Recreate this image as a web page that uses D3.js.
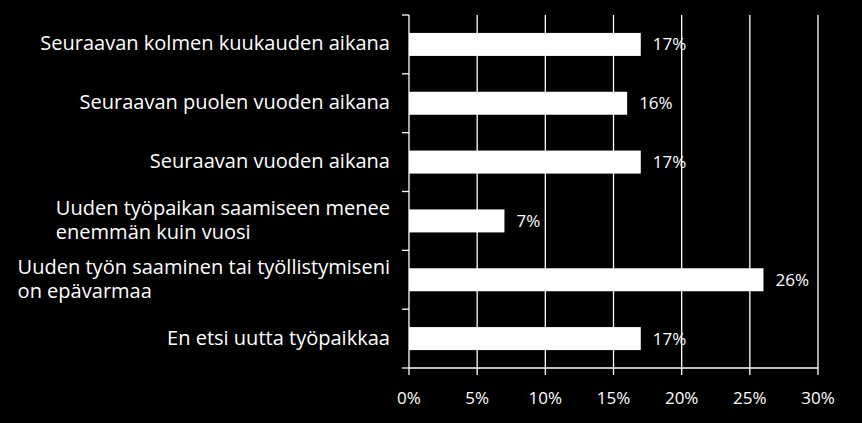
<!DOCTYPE html>
<html><head><meta charset="utf-8">
<script src="https://cdn.jsdelivr.net/npm/d3@7"></script>
<style>body{margin:0;background:#000}text{font-family:"Open Sans",sans-serif;fill:#fff}</style>
</head><body><svg id="c" width="862" height="423"></svg>
<script>
const categories=[["Seuraavan kolmen kuukauden aikana"],["Seuraavan puolen vuoden aikana"],["Seuraavan vuoden aikana"],["Uuden työpaikan saamiseen menee","enemmän kuin vuosi"],["Uuden työn saaminen tai työllistymiseni","on epävarmaa"],["En etsi uutta työpaikkaa"]];
const values=[17,16,17,7,26,17];
const tickValues=[0,5,10,15,20,25,30];
const svg=d3.select("#c");
const x=d3.scaleLinear().domain([0,30]).range([409,818]);
const y=d3.scaleBand().domain(d3.range(categories.length)).range([15,368]);
const g=svg.append("g");
g.selectAll("line.grid").data(tickValues).join("line").attr("x1",d=>x(d)).attr("x2",d=>x(d)).attr("y1",15).attr("y2",368).attr("stroke","#fff").attr("stroke-width",1.3);
const bounds=d3.range(categories.length+1).map(i=>15+i*y.step());
g.selectAll("line.bt").data(bounds).join("line").attr("x1",402).attr("x2",409).attr("y1",d=>d).attr("y2",d=>d).attr("stroke","#fff").attr("stroke-width",1.3);
g.selectAll("line.xt").data(tickValues).join("line").attr("x1",d=>x(d)).attr("x2",d=>x(d)).attr("y1",368).attr("y2",375).attr("stroke","#fff").attr("stroke-width",1.3);
g.append("line").attr("x1",409).attr("x2",818).attr("y1",368).attr("y2",368).attr("stroke","#fff").attr("stroke-width",1.3);
const bh=23;
g.selectAll("rect").data(values).join("rect").attr("x",x(0)).attr("y",(d,i)=>y(i)+y.bandwidth()/2-bh/2).attr("width",d=>x(d)-x(0)).attr("height",bh).attr("fill","#fff");
g.selectAll("text.v").data(values).join("text").attr("x",d=>x(d)+12).attr("y",(d,i)=>y(i)+y.bandwidth()/2+6).attr("font-size",17).text(d=>d+"%");
g.selectAll("text.xl").data(tickValues).join("text").attr("x",d=>x(d)).attr("y",404).attr("text-anchor","middle").attr("font-size",17).text(d=>d+"%");
// size label font so that the first label spans ~350px
const probe=g.append("text").attr("font-size",18).text(categories[0][0]);
const fs=18*350/probe.node().getComputedTextLength();
probe.remove();
categories.forEach((lines,i)=>{
  const cy=y(i)+y.bandwidth()/2;
  const t=g.append("text").attr("font-size",fs);
  const sp=lines.map((l,j)=>t.append("tspan").attr("y",cy+6+(j-(lines.length-1)/2)*24).text(l));
  const w=d3.max(sp,s=>s.node().getComputedTextLength());
  sp.forEach(s=>s.attr("x",390-w));
});
</script></body></html>
